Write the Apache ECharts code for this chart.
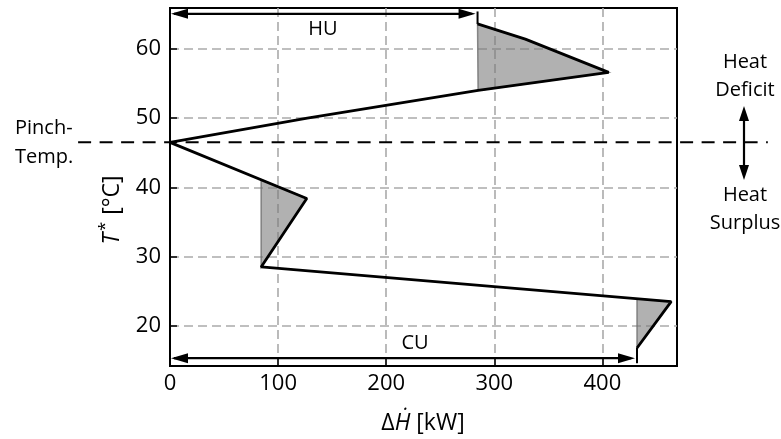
<!DOCTYPE html>
<html>
<head>
<meta charset="utf-8">
<script src="https://cdn.jsdelivr.net/npm/echarts@6/dist/echarts.min.js"></script>
<style>
html,body{margin:0;padding:0;background:#fff;}
#chart{width:781px;height:439px;}
</style>
</head>
<body>
<div id="chart"></div>
<script>
// ---- data ----
const gccQ = [284.5, 328.7, 405.8, 285.0, 127.0, 0.0, 126.5, 84.3, 463.6, 432.0];
const gccT = [63.6, 61.4, 56.6, 54.0, 50.0, 46.5, 38.4, 28.5, 23.5, 16.8];
const pocketAQ = [284.5, 328.7, 405.8, 285.0];
const pocketAT = [63.6, 61.4, 56.6, 54.0];
const pocketBQ = [84.3, 126.5, 84.3];
const pocketBT = [41.1, 38.4, 28.5];
const pocketCQ = [432.0, 463.6, 432.0];
const pocketCT = [23.9, 23.5, 16.8];
const hotUtility = 284.5;   // HU [kW]
const coldUtility = 432.0;  // CU [kW]
const pinchTemp = 46.5;     // [°C]
const xTickLabels = ['0', '100', '200', '300', '400'];
const yTickLabels = ['20', '30', '40', '50', '60'];
// ----------------------------------------

const FONT = 'Open Sans';
const zip = (a, b) => a.map((v, i) => [v, b[i]]);
const gcc = zip(gccQ, gccT);
const pockets = [zip(pocketAQ, pocketAT), zip(pocketBQ, pocketBT), zip(pocketCQ, pocketCT)];
const utilArrows = [
  {q: hotUtility, t: 65.06, tick: [65.4, 63.6]},
  {q: coldUtility, t: 15.33, tick: [16.8, 14.6]}
];

function arrowHead(tip, dir, len, half) {
  return [tip, [tip[0] - dir * len, tip[1] - half], [tip[0] - dir * len, tip[1] + half]];
}
function tickFmt(list) {
  return function (v) {
    const s = String(Math.round(v * 1000) / 1000);
    return list.indexOf(s) >= 0 ? s : '';
  };
}

const chart = echarts.init(document.getElementById('chart'), null, {renderer: 'canvas'});
chart.setOption({
  animation: false,
  backgroundColor: '#fff',
  textStyle: {fontFamily: FONT},
  grid: {left: 170, right: 104, top: 8, bottom: 73, show: true, borderColor: '#000', borderWidth: 2, backgroundColor: 'transparent'},
  xAxis: {
    type: 'value', min: 0, max: 469, interval: 100,
    axisLine: {lineStyle: {color: '#000', width: 2}},
    axisTick: {inside: true, length: 7, lineStyle: {color: '#000', width: 1.5}},
    axisLabel: {color: '#000', fontSize: 22, fontFamily: FONT, margin: 7, showMaxLabel: false,
      formatter: tickFmt(xTickLabels)},
    splitLine: {show: true, showMinLine: false, showMaxLine: false,
      lineStyle: {color: '#aaaaaa', width: 1.6, type: [9, 5]}}
  },
  yAxis: {
    type: 'value', min: 14.2, max: 65.9,
    axisLine: {lineStyle: {color: '#000', width: 2}},
    axisTick: {inside: true, length: 7, lineStyle: {color: '#000', width: 1.5}},
    axisLabel: {color: '#000', fontSize: 22, fontFamily: FONT, margin: 9, showMinLabel: false, showMaxLabel: false,
      formatter: tickFmt(yTickLabels)},
    splitLine: {show: true, showMinLine: false, showMaxLine: false,
      lineStyle: {color: '#aaaaaa', width: 1.6, type: [9, 5]}}
  },
  series: [
    {
      type: 'custom', name: 'pockets', z: 3,
      data: pockets.map((p, i) => [i, 40]),
      renderItem: function (params, api) {
        const pts = pockets[params.dataIndex].map(p => api.coord(p));
        return {type: 'polygon', shape: {points: pts},
          style: {fill: 'rgba(120,120,120,0.58)', stroke: 'rgba(110,110,110,0.8)', lineWidth: 1.5}};
      }
    },
    {
      type: 'custom', name: 'pinch', z: 4, clip: false,
      data: [[0, pinchTemp]],
      renderItem: function (params, api) {
        const a = api.coord([-85, pinchTemp]);
        const b = api.coord([553, pinchTemp]);
        return {type: 'line', shape: {x1: a[0], y1: a[1], x2: b[0], y2: b[1]},
          style: {stroke: '#000', lineWidth: 2, lineDash: [13, 8.5]}};
      }
    },
    {
      type: 'line', name: 'GCC', z: 5, data: gcc,
      symbol: 'none', lineStyle: {color: '#000', width: 2.8}, clip: false
    },
    {
      type: 'custom', name: 'utilities', z: 6, clip: false,
      data: utilArrows.map((u, i) => [i, u.t]),
      renderItem: function (params, api) {
        const u = utilArrows[params.dataIndex];
        const p0 = api.coord([0, u.t]);
        const p1 = api.coord([u.q, u.t]);
        const k0 = api.coord([u.q, u.tick[0]]);
        const k1 = api.coord([u.q, u.tick[1]]);
        const tip1 = [p1[0] - 2, p1[1]];
        return {type: 'group', children: [
          {type: 'line', shape: {x1: p0[0] + 4, y1: p0[1], x2: tip1[0] - 4, y2: tip1[1]}, style: {stroke: '#000', lineWidth: 2.2}},
          {type: 'polygon', shape: {points: arrowHead([p0[0] + 1, p0[1]], -1, 17, 5)}, style: {fill: '#000'}},
          {type: 'polygon', shape: {points: arrowHead(tip1, 1, 17, 5)}, style: {fill: '#000'}},
          {type: 'line', shape: {x1: k0[0], y1: k0[1], x2: k1[0], y2: k1[1]}, style: {stroke: '#000', lineWidth: 2}}
        ]};
      }
    }
  ],
  graphic: [
    {type: 'text', x: 323, y: 29, style: {text: 'HU', font: '20px "Open Sans"', fill: '#000', textAlign: 'center', textVerticalAlign: 'middle'}},
    {type: 'text', x: 415, y: 343, style: {text: 'CU', font: '20px "Open Sans"', fill: '#000', textAlign: 'center', textVerticalAlign: 'middle'}},
    {type: 'text', x: 15, y: 128, style: {text: 'Pinch-', font: '20px "Open Sans"', fill: '#000', textAlign: 'left', textVerticalAlign: 'middle'}},
    {type: 'text', x: 15, y: 157, style: {text: 'Temp.', font: '20px "Open Sans"', fill: '#000', textAlign: 'left', textVerticalAlign: 'middle'}},
    {type: 'text', x: 745, y: 62, style: {text: 'Heat', font: '20px "Open Sans"', fill: '#000', textAlign: 'center', textVerticalAlign: 'middle'}},
    {type: 'text', x: 745, y: 90, style: {text: 'Deficit', font: '20px "Open Sans"', fill: '#000', textAlign: 'center', textVerticalAlign: 'middle'}},
    {type: 'text', x: 745, y: 195, style: {text: 'Heat', font: '20px "Open Sans"', fill: '#000', textAlign: 'center', textVerticalAlign: 'middle'}},
    {type: 'text', x: 745, y: 223, style: {text: 'Surplus', font: '20px "Open Sans"', fill: '#000', textAlign: 'center', textVerticalAlign: 'middle'}},
    {type: 'line', shape: {x1: 744, y1: 116, x2: 744, y2: 172}, style: {stroke: '#000', lineWidth: 2.2}},
    {type: 'polygon', shape: {points: [[744, 106], [739, 121], [749, 121]]}, style: {fill: '#000'}},
    {type: 'polygon', shape: {points: [[744, 180], [739, 165], [749, 165]]}, style: {fill: '#000'}},
    {type: 'text', x: 423, y: 423, style: {
      text: '{d|Δ}{h|Ḣ}{n| [kW]}', textAlign: 'center', textVerticalAlign: 'middle',
      rich: {
        d: {fontSize: 23, fontFamily: FONT, fill: '#000'},
        h: {fontSize: 23, fontFamily: FONT, fontStyle: 'italic', fill: '#000'},
        n: {fontSize: 23, fontFamily: FONT, fill: '#000'}
      }}},
    {type: 'text', x: 112, y: 210, rotation: Math.PI / 2, style: {
      text: '{t|T}{s|*}{n| [°C]}', textAlign: 'center', textVerticalAlign: 'middle',
      rich: {
        t: {fontSize: 23, fontFamily: FONT, fontStyle: 'italic', fill: '#000'},
        s: {fontSize: 17, fontFamily: FONT, fill: '#000', padding: [0, 1, 13, 2]},
        n: {fontSize: 23, fontFamily: FONT, fill: '#000'}
      }}}
  ]
});
</script>
</body>
</html>
